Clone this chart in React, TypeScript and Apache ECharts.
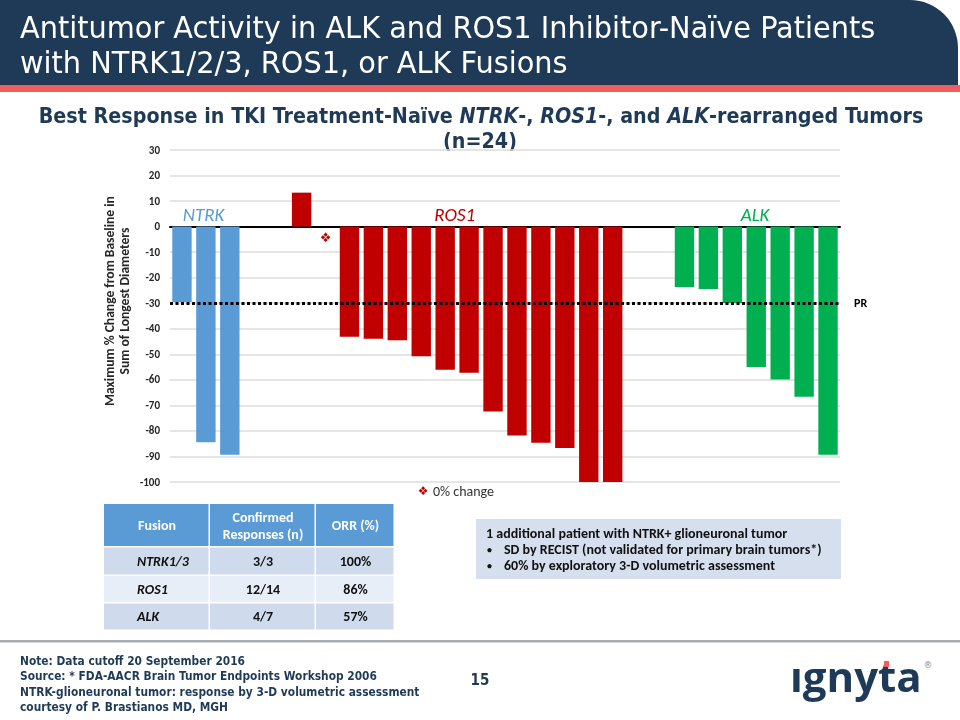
import React, { useEffect, useRef } from "react";
import * as echarts from "echarts";

// ---------- data ----------
const ntrkValues = [-29.5, -84.4, -89.3];
const ros1Values = [13.3, 0, -43.1, -43.9, -44.5, -50.8, -56.0, -57.2, -72.4, -81.8, -84.6, -86.7, -100, -100];
const alkValues = [-23.6, -24.4, -29.9, -55.0, -59.9, -66.6, -89.3];
const groupNames = ["NTRK", "ROS1", "ALK"];
const groupColors = ["#5B9BD5", "#C00000", "#00B050"];
const yTicks = { min: -100, max: 30, interval: 10 };
const prThreshold = -30;

const tableHeader = ["Fusion", "Confirmed\nResponses (n)", "ORR (%)"];
const tableFusion = ["NTRK1/3", "ROS1", "ALK"];
const tableResponses = ["3/3", "12/14", "4/7"];
const tableOrr = ["100%", "86%", "57%"];

const noteLines = [
  "1 additional patient with NTRK+ glioneuronal tumor",
  "SD by RECIST (not validated for primary brain tumors*)",
  "60% by exploratory 3-D volumetric assessment",
];
const footerLines = [
  "Note: Data cutoff 20 September 2016",
  "Source: * FDA-AACR Brain Tumor Endpoints Workshop 2006",
  "NTRK-glioneuronal tumor: response by 3-D volumetric assessment",
  "courtesy of P. Brastianos MD, MGH",
];

const NAVY = "#1E3A56";
const CAL = "Carlito, Lato, sans-serif";
const COND = "'Liberation Sans Narrow', 'DejaVu Sans Condensed', sans-serif";

export default function App() {
  const ref = useRef<HTMLDivElement>(null);
  useEffect(() => {
    if (!ref.current) return;
    const chart = echarts.init(ref.current, null, { renderer: "svg" });

    // build slots: groups separated by 2 empty slots
    const groups = [ntrkValues, ros1Values, alkValues];
    const gap = 2;
    const categories: string[] = [];
    const seriesData: any[][] = [[], [], []];
    const groupCenters: number[] = [];
    groups.forEach((vals, gi) => {
      if (gi > 0) {
        for (let k = 0; k < gap; k++) {
          categories.push("gap" + gi + "_" + k);
          seriesData.forEach((s) => s.push("-"));
        }
      }
      const start = categories.length;
      vals.forEach((v, i) => {
        categories.push(groupNames[gi] + (i + 1));
        seriesData.forEach((s, si) => {
          if (si === gi) {
            s.push(
              v === 0
                ? {
                    value: v,
                    label: {
                      show: true,
                      position: "bottom",
                      distance: 4,
                      formatter: "❖",
                      color: groupColors[gi],
                      fontSize: 13,
                      fontFamily: "DejaVu Sans",
                    },
                  }
                : v
            );
          } else s.push("-");
        });
      });
      groupCenters.push(start);
    });

    const gridLeft = 170, gridRight = 120, gridTop = 150, gridBottom = 238;

    const tableX = [104, 210, 316, 395];
    const tableY = [504, 547.5, 576, 603.5, 631];
    const rowFills = ["#CFDBEC", "#E8EEF7", "#CFDBEC"];
    const tableGraphics: any[] = [];
    for (let c = 0; c < 3; c++) {
      tableGraphics.push({
        type: "rect",
        shape: { x: tableX[c], y: tableY[0], width: tableX[c + 1] - tableX[c] - 1.5, height: tableY[1] - tableY[0] - 1.5 },
        style: { fill: "#5B9BD5" },
      });
      tableGraphics.push({
        type: "text",
        x: (tableX[c] + tableX[c + 1]) / 2,
        y: (tableY[0] + tableY[1]) / 2,
        style: {
          text: tableHeader[c],
          textAlign: "center",
          textVerticalAlign: "middle",
          fill: "#fff",
          font: `bold 14px ${CAL}`,
          lineHeight: 17,
        },
      });
      for (let r = 0; r < 3; r++) {
        tableGraphics.push({
          type: "rect",
          shape: { x: tableX[c], y: tableY[r + 1], width: tableX[c + 1] - tableX[c] - 1.5, height: tableY[r + 2] - tableY[r + 1] - 1.5 },
          style: { fill: rowFills[r] },
        });
        const txt = c === 0 ? tableFusion[r] : c === 1 ? tableResponses[r] : tableOrr[r];
        tableGraphics.push({
          type: "text",
          x: c === 0 ? 137 : (tableX[c] + tableX[c + 1]) / 2,
          y: (tableY[r + 1] + tableY[r + 2]) / 2 - 0.5,
          style: {
            text: txt,
            textAlign: c === 0 ? "left" : "center",
            textVerticalAlign: "middle",
            fill: "#111",
            font: `${c === 0 ? "italic " : ""}bold 14px ${CAL}`,
          },
        });
      }
    }

    const plotW = 960 - gridLeft - gridRight;
    const slotW = plotW / categories.length;
    const labelX = (gi: number, offset: number) => gridLeft + (groupCenters[gi] + offset) * slotW;

    chart.setOption({
      animation: false,
      grid: { left: gridLeft, right: gridRight, top: gridTop, bottom: gridBottom, containLabel: false },
      xAxis: {
        type: "category",
        data: categories,
        axisLine: { show: true, onZero: true, lineStyle: { color: "#000", width: 2 } },
        axisTick: { show: false },
        axisLabel: { show: false },
        splitLine: { show: false },
      },
      yAxis: {
        type: "value",
        min: yTicks.min,
        max: yTicks.max,
        interval: yTicks.interval,
        axisLine: { show: false },
        axisTick: { show: false },
        axisLabel: { fontFamily: CAL, fontWeight: "bold", fontSize: 11, color: "#262626", margin: 10 },
        splitLine: { lineStyle: { color: "#DCDCDC", width: 1.5 } },
      },
      series: groupNames.map((name, gi) => ({
        name,
        type: "bar",
        stack: "all",
        barWidth: "81%",
        data: seriesData[gi],
        itemStyle: { color: groupColors[gi] },
        z: 1,
        markLine:
          gi === 0
            ? {
                silent: true,
                symbol: "none",
                z: 5,
                data: [{ yAxis: prThreshold }],
                lineStyle: { color: "#000", type: [3, 2.5], width: 3 },
                label: { position: "end", formatter: "PR", color: "#000", fontWeight: "bold", fontSize: 12, fontFamily: CAL, distance: 14 },
              }
            : undefined,
      })),
      graphic: [
        // banner
        { type: "rect", shape: { x: 0, y: 0, width: 958, height: 85, r: [0, 48, 0, 0] }, style: { fill: NAVY } },
        { type: "rect", shape: { x: 0, y: 85, width: 960, height: 7 }, style: { fill: "#F25E5E" } },
        {
          type: "text", x: 20, y: 27, scaleX: 1.085,
          style: { text: "Antitumor Activity in ALK and ROS1 Inhibitor-Naïve Patients", fill: "#fff", fontSize: 29.5, fontFamily: COND, textVerticalAlign: "middle" },
        },
        {
          type: "text", x: 20, y: 62, scaleX: 1.085,
          style: { text: "with NTRK1/2/3, ROS1, or ALK Fusions", fill: "#fff", fontSize: 29.5, fontFamily: COND, textVerticalAlign: "middle" },
        },
        // subtitle
        {
          type: "text", x: 481, y: 115,
          style: {
            text: "{b|Best Response in TKI Treatment-Naïve }{i|NTRK}{b|-, }{i|ROS1}{b|-, and }{i|ALK}{b|-rearranged Tumors}",
            textAlign: "center", textVerticalAlign: "middle",
            rich: {
              b: { fontFamily: COND, fontWeight: "bold", fontSize: 21.3, fill: NAVY, color: NAVY },
              i: { fontFamily: COND, fontWeight: "bold", fontStyle: "italic", fontSize: 21.3, fill: NAVY, color: NAVY },
            },
          },
        },
        {
          type: "text", x: 480, y: 140,
          style: { text: "(n=24)", textAlign: "center", textVerticalAlign: "middle", fill: NAVY, fontWeight: "bold", fontSize: 21.3, fontFamily: COND },
        },
        // y axis name
        {
          type: "text", x: 117, y: 301, rotation: Math.PI / 2,
          style: {
            text: "Maximum % Change from Baseline in\nSum of Longest Diameters",
            textAlign: "center", textVerticalAlign: "middle", fill: "#262626", fontWeight: "bold", fontSize: 13.6, fontFamily: CAL, lineHeight: 15,
          },
        },
        // group labels
        { type: "text", x: labelX(0, 1.4), y: 214, style: { text: groupNames[0], textAlign: "center", textVerticalAlign: "middle", fill: groupColors[0], font: `italic 19px ${CAL}` } },
        { type: "text", x: labelX(1, 6.9), y: 214, style: { text: groupNames[1], textAlign: "center", textVerticalAlign: "middle", fill: groupColors[1], font: `italic 19px ${CAL}` } },
        { type: "text", x: labelX(2, 3.45), y: 214, style: { text: groupNames[2], textAlign: "center", textVerticalAlign: "middle", fill: groupColors[2], font: `italic 19px ${CAL}` } },
        // legend for 0% change
        { type: "text", x: 423, y: 491, style: { text: "❖", textAlign: "center", textVerticalAlign: "middle", fill: "#C00000", font: `12px 'DejaVu Sans'` } },
        { type: "text", x: 433, y: 491, style: { text: "0% change", textVerticalAlign: "middle", fill: "#333", font: `14px ${CAL}` } },
        // table
        ...tableGraphics,
        // note box
        { type: "rect", shape: { x: 476, y: 519, width: 365, height: 60 }, style: { fill: "#D5DFEE" } },
        { type: "text", x: 486, y: 533, style: { text: noteLines[0], textVerticalAlign: "middle", fill: "#111", font: `bold 14px ${CAL}` } },
        { type: "text", x: 487, y: 549, style: { text: "•", textVerticalAlign: "middle", fill: "#111", font: `bold 10px ${CAL}` } },
        { type: "text", x: 504, y: 549, style: { text: noteLines[1], textVerticalAlign: "middle", fill: "#111", font: `bold 14px ${CAL}` } },
        { type: "text", x: 487, y: 565, style: { text: "•", textVerticalAlign: "middle", fill: "#111", font: `bold 10px ${CAL}` } },
        { type: "text", x: 504, y: 565, style: { text: noteLines[2], textVerticalAlign: "middle", fill: "#111", font: `bold 14px ${CAL}` } },
        // footer
        { type: "rect", shape: { x: 0, y: 640, width: 960, height: 2.5 }, style: { fill: "#A6ADB0" } },
        ...footerLines.map((t, i) => ({
          type: "text", x: 20, y: 661 + i * 15.3, scaleX: 0.94,
          style: { text: t, textVerticalAlign: "middle", fill: NAVY, fontWeight: "bold", fontSize: 12.6, fontFamily: COND },
        })),
        { type: "text", x: 480, y: 680, style: { text: "15", textAlign: "center", textVerticalAlign: "middle", fill: NAVY, font: `bold 15px ${COND}` } },
        // logo
        { type: "text", x: 790, y: 675, style: { text: "ıgnyta", textVerticalAlign: "middle", fill: NAVY, font: `bold 42px 'Open Sans', sans-serif` } },
        { type: "rect", shape: { x: 884, y: 661, width: 5, height: 6 }, style: { fill: "#F25E5E" } },
        { type: "text", x: 928, y: 665, style: { text: "®", textAlign: "center", textVerticalAlign: "middle", fill: "#888", font: `9px 'DejaVu Sans'` } },
      ],
    });
    return () => chart.dispose();
  }, []);
  return <div ref={ref} style={{ position: "fixed", left: 0, top: 0, width: 960, height: 720 }} />;
}
